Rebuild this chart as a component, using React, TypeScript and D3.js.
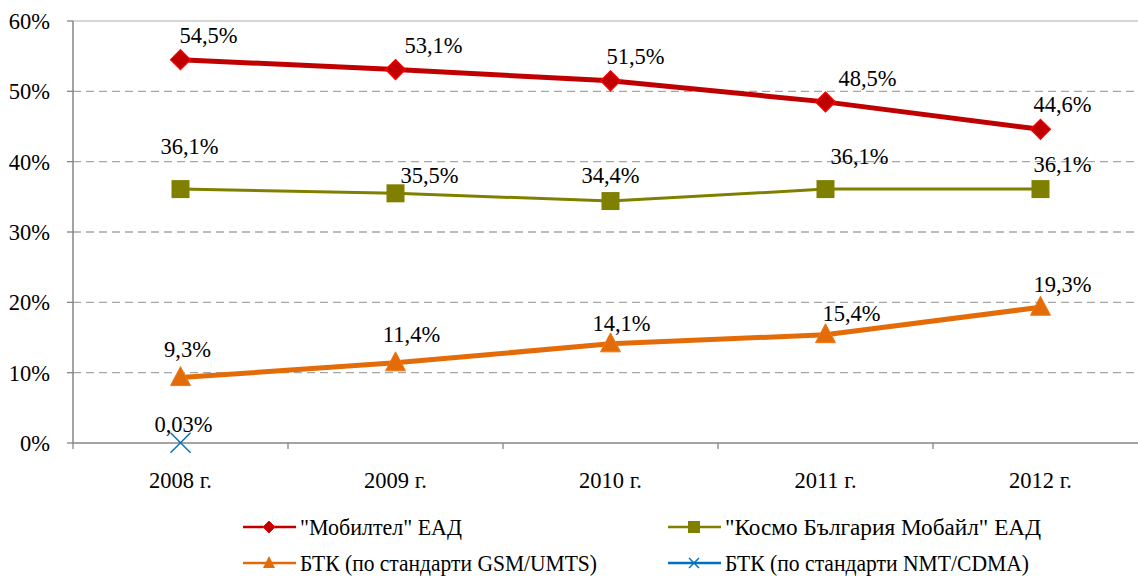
import React from 'react';
import * as d3 from 'd3';

const years = ['2008 г.', '2009 г.', '2010 г.', '2011 г.', '2012 г.'];
const mobiltel = [54.5, 53.1, 51.5, 48.5, 44.6];
const kosmo = [36.1, 35.5, 34.4, 36.1, 36.1];
const btkGsm = [9.3, 11.4, 14.1, 15.4, 19.3];
const btkNmt = [0.03, null, null, null, null];
const yTicks = [0, 10, 20, 30, 40, 50, 60];

// where excel put each data label, relative to the point
const labelOffsets = {
  mobiltel: [[28, -25], [38, -24], [25, -25], [42, -24], [22, -25]],
  kosmo: [[9, -43], [34, -18], [0, -26], [34, -33], [22, -25]],
  btkGsm: [[7, -28], [16, -29], [11, -21], [26, -22], [22, -23]],
  btkNmt: [[3, -19]]
};

const fmt = (v: number) => (v < 1 ? v.toFixed(2) : v.toFixed(1)).replace('.', ',') + '%';

const W = 1138;
const H = 577;
const left = 73;
const top = 21;
const bottom = 443;
const band = 215;
const FS = 22.5;
const FONT = 'Liberation Serif, Times New Roman, serif';

const Marker = ({ kind, x, y }: any) => {
  if (kind === 'diamond') {
    const r = 10;
    return (
      <path
        d={`M${x},${y - r}L${x + r},${y}L${x},${y + r}L${x - r},${y}Z`}
        fill="#C00000"
        stroke="#FF0000"
        strokeWidth={1.2}
      />
    );
  }
  if (kind === 'square') {
    return <rect x={x - 9} y={y - 9} width={18} height={18} fill="#808000" />;
  }
  if (kind === 'triangle') {
    return (
      <path d={`M${x},${y - 11}L${x + 10},${y + 8}L${x - 10},${y + 8}Z`} fill="#E36C09" stroke="#F07818" strokeWidth={1} />
    );
  }
  // x marker
  return (
    <g stroke="#0070C0" strokeWidth={1.5}>
      <line x1={x - 10} y1={y - 10} x2={x + 10} y2={y + 10} />
      <line x1={x - 10} y1={y + 10} x2={x + 10} y2={y - 10} />
    </g>
  );
};

const SmallMarker = ({ kind, x, y }: any) => {
  if (kind === 'diamond') {
    const r = 6;
    return <path d={`M${x},${y - r}L${x + r},${y}L${x},${y + r}L${x - r},${y}Z`} fill="#C00000" stroke="#FF0000" />;
  }
  if (kind === 'square') return <rect x={x - 6} y={y - 6} width={12} height={12} fill="#808000" />;
  if (kind === 'triangle') return <path d={`M${x},${y - 7}L${x + 6},${y + 5}L${x - 6},${y + 5}Z`} fill="#E36C09" />;
  return (
    <g stroke="#0070C0" strokeWidth={1.4}>
      <line x1={x - 5} y1={y - 5} x2={x + 5} y2={y + 5} />
      <line x1={x - 5} y1={y + 5} x2={x + 5} y2={y - 5} />
    </g>
  );
};

export default function App() {
  const x = d3.scaleBand().domain(years).range([left, left + band * years.length]);
  const cx = (d: string) => (x(d) as number) + x.bandwidth() / 2;
  const y = d3.scaleLinear().domain([0, 60]).range([bottom, top]);

  const series = [
    { key: 'mobiltel', name: '"Мобилтел" ЕАД', values: mobiltel, color: '#C00000', width: 5, marker: 'diamond' },
    { key: 'kosmo', name: '"Космо България Мобайл" ЕАД', values: kosmo, color: '#808000', width: 3, marker: 'square' },
    { key: 'btkGsm', name: 'БТК (по стандарти GSM/UMTS)', values: btkGsm, color: '#E36C09', width: 5, marker: 'triangle' },
    { key: 'btkNmt', name: 'БТК (по стандарти NMT/CDMA)', values: btkNmt, color: '#0070C0', width: 2.5, marker: 'x' }
  ];

  const line = d3
    .line<any>()
    .defined(d => d.v != null)
    .x(d => cx(d.year))
    .y(d => y(d.v));

  // legend: line start, row y, text width
  const legendPos = [
    [243, 527, 162],
    [668, 527, 316],
    [243, 563, 297],
    [668, 563, 304]
  ];

  return (
    <svg width={W} height={H} style={{ position: 'absolute', left: 0, top: 0 }}>
      <rect width={W} height={H} fill="white" />
      {/* gridlines */}
      {yTicks.filter(t => t > 0).map(t => (
        <line
          key={t}
          x1={left}
          x2={W}
          y1={y(t)}
          y2={y(t)}
          stroke={t === 60 ? '#C8C8C8' : '#A6A6A6'}
          strokeWidth={1.3}
          strokeDasharray={t === 60 ? undefined : '8,5'}
        />
      ))}
      {/* y axis */}
      <line x1={left} x2={left} y1={top} y2={bottom} stroke="#868686" strokeWidth={1.5} />
      {yTicks.map(t => (
        <g key={t}>
          <line x1={left - 6} x2={left} y1={y(t)} y2={y(t)} stroke="#868686" strokeWidth={1.3} />
          <text x={50} y={y(t)} dy="0.35em" textAnchor="end" fontSize={FS} fontFamily={FONT} fill="#000">
            {t}%
          </text>
        </g>
      ))}
      {/* x axis */}
      <line x1={left} x2={W} y1={bottom} y2={bottom} stroke="#868686" strokeWidth={1.5} />
      {years.map((yr, i) => (
        <g key={yr}>
          <line x1={left + band * i} x2={left + band * i} y1={bottom} y2={bottom + 6} stroke="#868686" strokeWidth={1.3} />
          <text x={cx(yr)} y={488} textAnchor="middle" fontSize={FS} fontFamily={FONT} fill="#000">
            {yr}
          </text>
        </g>
      ))}
      {/* series */}
      {series.map(s => {
        const pts = years.map((yr, i) => ({ year: yr, v: s.values[i] }));
        const offs = (labelOffsets as any)[s.key];
        return (
          <g key={s.key}>
            <path d={line(pts) || ''} fill="none" stroke={s.color} strokeWidth={s.width} />
            {pts.filter(p => p.v != null).map((p, i) => (
              <Marker key={i} kind={s.marker} x={cx(p.year)} y={y(p.v as number)} />
            ))}
            {pts.filter(p => p.v != null).map((p, i) => (
              <text
                key={'l' + i}
                x={cx(p.year) + offs[i][0]}
                y={y(p.v as number) + offs[i][1]}
                dy="0.35em"
                textAnchor="middle"
                fontSize={FS}
                fontFamily={FONT}
                fill="#000"
              >
                {fmt(p.v as number)}
              </text>
            ))}
          </g>
        );
      })}
      {/* legend */}
      {series.map((s, i) => {
        const [lx, ly, tw] = legendPos[i];
        return (
          <g key={'lg' + s.key}>
            <line x1={lx} x2={lx + 53} y1={ly} y2={ly} stroke={s.color} strokeWidth={2.5} />
            <SmallMarker kind={s.marker} x={lx + 26} y={ly} />
            <text
              x={lx + 57}
              y={ly}
              dy="0.35em"
              fontSize={FS}
              fontFamily={FONT}
              fill="#000"
              textLength={tw}
              lengthAdjust="spacingAndGlyphs"
            >
              {s.name}
            </text>
          </g>
        );
      })}
    </svg>
  );
}
